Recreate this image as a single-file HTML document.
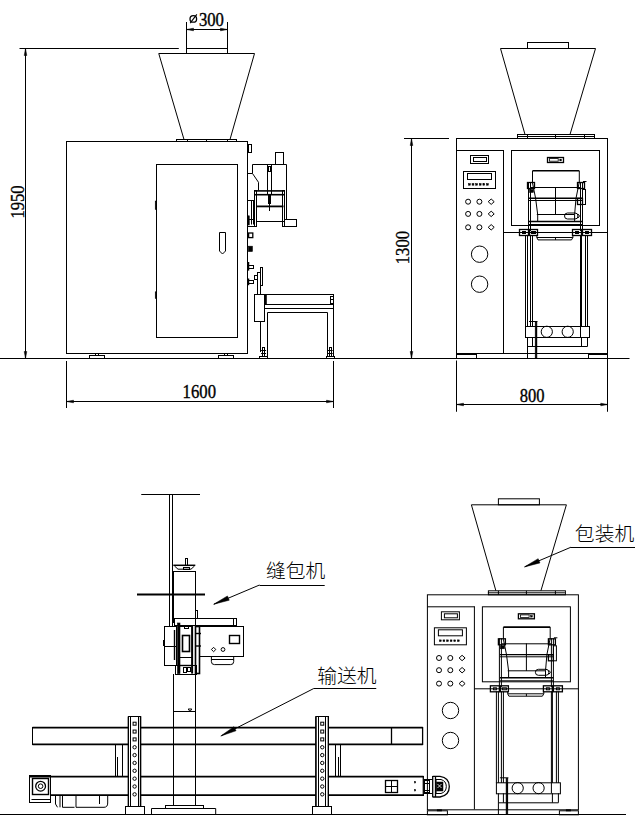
<!DOCTYPE html>
<html><head><meta charset="utf-8"><title>Packing machine drawing</title>
<style>
html,body{margin:0;padding:0;background:#fff;}
body{width:640px;height:832px;overflow:hidden;font-family:"Liberation Serif",serif;}
svg{display:block;}
svg text{font-family:"Liberation Serif",serif;fill:#000;stroke:#000;stroke-width:0.35px;}
</style></head>
<body>
<svg width="640" height="832" viewBox="0 0 640 832">
<rect x="0" y="0" width="640" height="832" fill="#fff"/>
<g fill="none" stroke="#000" stroke-width="1">
<path d="M0 358.5H629.5"/>
<path d="M0 814.5H626"/>
<path d="M19.5 48.5H178.8"/>
<path d="M25.5 48.5V358.5"/>
<path d="M25.5 48.5L26.8 55.5L24.2 55.5Z" fill="#000" stroke-width="0.5"/>
<path d="M25.5 358.5L24.2 351.5L26.8 351.5Z" fill="#000" stroke-width="0.5"/>
<text x="23.6" y="218.6" font-size="17.8" textLength="33.2" lengthAdjust="spacingAndGlyphs" transform="rotate(-90 23.6 218.6)">1950</text>
<path d="M186.5 22V53"/>
<path d="M227.5 22V53"/>
<path d="M186.5 29.5H227.5"/>
<path d="M186.5 29.5L193.5 28.2L193.5 30.8Z" fill="#000" stroke-width="0.5"/>
<path d="M227.5 29.5L220.5 30.8L220.5 28.2Z" fill="#000" stroke-width="0.5"/>
<circle cx="193.3" cy="18.9" r="3.3" stroke-width="1.3"/>
<path d="M190.2 23.2L196.8 14.4" stroke-width="1.1"/>
<text x="198.9" y="25.7" font-size="17.8" textLength="25" lengthAdjust="spacingAndGlyphs">300</text>
<rect x="186.5" y="48.5" width="41" height="5"/>
<path d="M184 139.5L158.75 53.5L254.5 53.5L230 139.5"/>
<rect x="176.5" y="139.5" width="60" height="2"/>
<path d="M187.5 139.5V141.5"/>
<path d="M206.5 139.5V141.5"/>
<path d="M227.5 139.5V141.5"/>
<rect x="66.5" y="141.5" width="181" height="212"/>
<rect x="156.5" y="164.5" width="81" height="173"/>
<rect x="155.2" y="201" width="1.3" height="8.5" stroke-width="0.5" fill="#000"/>
<rect x="155.2" y="291.8" width="1.3" height="6.7" stroke-width="0.5" fill="#000"/>
<path d="M219.5 232.5L225.5 232.5L225.5 251L222.5 254L219.5 251Z"/>
<rect x="89.5" y="355.5" width="15" height="3"/>
<rect x="95.5" y="353.5" width="3" height="2"/>
<rect x="218.5" y="355.5" width="15" height="3"/>
<rect x="224.5" y="353.5" width="3" height="2"/>
<path d="M66.5 361V408"/>
<path d="M333.5 361V408"/>
<path d="M66.5 401.5H333.5"/>
<path d="M66.5 401.5L73.5 400.2L73.5 402.8Z" fill="#000" stroke-width="0.5"/>
<path d="M333.5 401.5L326.5 402.8L326.5 400.2Z" fill="#000" stroke-width="0.5"/>
<text x="182.6" y="397.8" font-size="17.8" textLength="33.4" lengthAdjust="spacingAndGlyphs">1600</text>
<rect x="248.5" y="144.5" width="3" height="8"/>
<rect x="275.5" y="152.5" width="8" height="12"/>
<path d="M252.5 173.5L252.5 164.5L286.5 164.5L286.5 219.5"/>
<path d="M248 173.5L252.5 173.5L258.5 182.3L258.5 190.5"/>
<rect x="267.5" y="164.5" width="4" height="30"/>
<rect x="268.5" y="166.5" width="2" height="5"/>
<path d="M269.5 194V206"/>
<path d="M268.5 194V204"/>
<path d="M270.5 194V204"/>
<path d="M269.5 206L269.5 211"/>
<path d="M254.8 190.9H284.8" stroke-width="1.6"/>
<path d="M254.8 194.7H284.8" stroke-width="1.6"/>
<path d="M256.5 206.4H283.5" stroke-width="1.8"/>
<path d="M256.5 221.5H284"/>
<rect x="254.5" y="190.5" width="2" height="36"/>
<rect x="282.5" y="190.5" width="2" height="36"/>
<path d="M253.5 200V224.5"/>
<path d="M251.5 200V224.5"/>
<path d="M248 200.5H254.8"/>
<path d="M248 219.5H254.8"/>
<path d="M248 226.5H254.8"/>
<rect x="247.6" y="215.8" width="1.7" height="9.2" stroke-width="0.5" fill="#000"/>
<rect x="284.5" y="219.5" width="12" height="7"/>
<rect x="248.6" y="233" width="4.2" height="4.6" stroke-width="1.3"/>
<rect x="248.4" y="246.2" width="4" height="5.3" stroke-width="0.6" fill="#000"/>
<rect x="248.5" y="265.5" width="5" height="3"/>
<path d="M248.4 262V270.6" stroke-width="1.7"/>
<rect x="248.5" y="280.5" width="5" height="3"/>
<path d="M248.4 278.5V285.2" stroke-width="1.7"/>
<rect x="257.5" y="272.5" width="3" height="22"/>
<rect x="260.5" y="267.5" width="2" height="18"/>
<rect x="254.5" y="275.5" width="3" height="4"/>
<rect x="254.5" y="294.5" width="10" height="27"/>
<rect x="265.5" y="294.5" width="68" height="10"/>
<path d="M266 295V304" stroke-width="1.6"/>
<path d="M265 308.5H333.8"/>
<path d="M267.5 357L267.5 312.5L327.5 312.5L327.5 357"/>
<path d="M333.5 294.5V357"/>
<path d="M260.5 321V352"/>
<rect x="330.5" y="296.5" width="3" height="3"/>
<rect x="330.5" y="299.5" width="3" height="4"/>
<rect x="262.5" y="347.5" width="2" height="9"/>
<path d="M261.1 350.5H266.1"/>
<path d="M261.1 353.5H266.1"/>
<rect x="259.5" y="356.5" width="8" height="2"/>
<rect x="329.5" y="347.5" width="2" height="9"/>
<path d="M327.7 350.5H332.7"/>
<path d="M327.7 353.5H332.7"/>
<rect x="326.5" y="356.5" width="8" height="2"/>
<g>
<rect x="527.5" y="42.5" width="41" height="6"/>
<path d="M525 134.5L500.5 48.5L595.5 48.5L570 134.5"/>
<rect x="517.5" y="134.5" width="77" height="4"/>
<path d="M517 136.5H594"/>
<path d="M527.5 134.5V138.4"/>
<path d="M555.5 134.5V138.4"/>
<path d="M584.5 134.5V138.4"/>
<rect x="456.5" y="138.5" width="151" height="215"/>
<path d="M456.5 150.5H504"/>
<path d="M503.5 150.3V353"/>
<rect x="511.5" y="150.5" width="88" height="75"/>
<path d="M503.6 232.5H607.75"/>
<rect x="470.5" y="155.5" width="18" height="8"/>
<rect x="473.5" y="157.5" width="13" height="4"/>
<rect x="463.5" y="171.5" width="32" height="17"/>
<rect x="467.5" y="173.5" width="24" height="6"/>
<rect x="468.5" y="183.6" width="1.8" height="1.6" stroke-width="0.5" fill="#000"/>
<rect x="472.1" y="183.6" width="1.8" height="1.6" stroke-width="0.5" fill="#000"/>
<rect x="475.7" y="183.6" width="1.8" height="1.6" stroke-width="0.5" fill="#000"/>
<rect x="479.3" y="183.6" width="1.8" height="1.6" stroke-width="0.5" fill="#000"/>
<rect x="482.9" y="183.6" width="1.8" height="1.6" stroke-width="0.5" fill="#000"/>
<rect x="486.5" y="183.6" width="1.8" height="1.6" stroke-width="0.5" fill="#000"/>
<circle cx="468.1" cy="201.7" r="2.5"/>
<circle cx="479.4" cy="201.7" r="2.5"/>
<path d="M491.2 199L494.2 201.7L491.2 204.4L488.2 201.7Z"/>
<circle cx="468.1" cy="213.9" r="2.5"/>
<circle cx="479.4" cy="213.9" r="2.5"/>
<path d="M491.2 211.2L494.2 213.9L491.2 216.6L488.2 213.9Z"/>
<circle cx="468.1" cy="227.3" r="2.5"/>
<circle cx="479.4" cy="227.3" r="2.5"/>
<path d="M491.2 224.6L494.2 227.3L491.2 230L488.2 227.3Z"/>
<circle cx="479.6" cy="254.2" r="8.2"/>
<circle cx="479.6" cy="284.2" r="8.2"/>
<rect x="547.5" y="157.5" width="16" height="5" stroke-width="1.3"/>
<rect x="549.6" y="158.6" width="8.6" height="2.6" stroke-width="0.8"/>
<rect x="559.8" y="159.2" width="1.6" height="1.6" stroke-width="0.5" fill="#000"/>
<path d="M532.5 170.8H579.3" stroke-width="1.6"/>
<path d="M532.5 170.8L532.5 183L535.6 198.3L537.7 214.6L537.7 221.5"/>
<path d="M579.3 170.8L579.3 182L576 198.3L574.6 214.6L574.6 221.5"/>
<path d="M530.8 187.5H580.6"/>
<path d="M529 198.3H582.4" stroke-width="1.4"/>
<path d="M529 200.5H582.4"/>
<path d="M536.8 214.5H574.6"/>
<path d="M529 221.5H582.4" stroke-width="1.4"/>
<path d="M529 224.5H582.4"/>
<path d="M555.5 187.1V214.6"/>
<path d="M528.5 182V231"/>
<path d="M530.5 182V231"/>
<path d="M580.5 182V231"/>
<path d="M582.5 182V231"/>
<rect x="527.5" y="182.5" width="7" height="6" stroke-width="1.3"/>
<rect x="529.5" y="189.5" width="4" height="3" stroke-width="0.5" fill="#000"/>
<rect x="577.5" y="182.5" width="7" height="6" stroke-width="1.3"/>
<rect x="582.5" y="189.5" width="3" height="15"/>
<rect x="577.5" y="198.5" width="5" height="6" stroke-width="1.3"/>
<path d="M583 181.5H586.5"/>
<rect x="564.5" y="213" width="13.5" height="6" rx="3"/>
<path d="M578 214L579.5 216"/>
<path d="M578 218L579.5 216"/>
<rect x="519.5" y="229.5" width="9" height="6" stroke-width="1.3"/>
<rect x="522.5" y="231.5" width="3" height="2"/>
<rect x="529.5" y="229.5" width="8" height="6" stroke-width="1.3"/>
<rect x="531.5" y="231.5" width="4" height="2"/>
<rect x="572.5" y="229.5" width="9" height="6" stroke-width="1.3"/>
<rect x="575.5" y="231.5" width="3" height="2"/>
<rect x="582.5" y="229.5" width="9" height="6" stroke-width="1.3"/>
<rect x="585.5" y="231.5" width="3" height="2"/>
<path d="M536.8 235.2L536.8 237.5L538 239.9L571.5 239.9L572.9 237.5L572.9 235.2"/>
<path d="M536.8 237.5H572.9"/>
<path d="M555.5 237.5V239.9"/>
<path d="M525.5 235.2V326.6"/>
<path d="M527.5 235.2V326.6"/>
<path d="M530.5 235.2V326.6"/>
<path d="M532.5 235.2V326.6"/>
<path d="M580.5 235.2V326.6"/>
<path d="M581.5 235.2V326.6"/>
<path d="M585.5 235.2V326.6"/>
<path d="M587.5 235.2V326.6"/>
<rect x="525.5" y="326.5" width="64" height="11"/>
<path d="M536.5 326.6V337"/>
<path d="M580.5 326.6V337"/>
<circle cx="546.8" cy="331.8" r="5.6"/>
<circle cx="567.7" cy="331.8" r="5.6"/>
<path d="M527.5 337V358"/>
<path d="M536.5 337V353"/>
<path d="M581.5 337V346.4"/>
<path d="M587.5 337V346.4"/>
<path d="M527.9 346.5H587.5"/>
<path d="M532.5 337V346.4"/>
<rect x="535.2" y="322" width="1.7" height="36" stroke-width="0.6" fill="#000"/>
<path d="M529 321.5H537.5"/>
<rect x="456.5" y="354.5" width="20" height="4"/>
<rect x="466.5" y="353.5" width="4" height="1"/>
<rect x="588.5" y="354.5" width="19" height="4"/>
<rect x="595.5" y="353.5" width="4" height="1"/>
</g>
<g transform="translate(-29.1 456.3)">
<rect x="527.5" y="42.5" width="41" height="6"/>
<path d="M525 134.5L500.5 48.5L595.5 48.5L570 134.5"/>
<rect x="517.5" y="134.5" width="77" height="4"/>
<path d="M517 136.5H594"/>
<path d="M527.5 134.5V138.4"/>
<path d="M555.5 134.5V138.4"/>
<path d="M584.5 134.5V138.4"/>
<rect x="456.5" y="138.5" width="151" height="215"/>
<path d="M456.5 150.5H504"/>
<path d="M503.5 150.3V353"/>
<rect x="511.5" y="150.5" width="88" height="75"/>
<path d="M503.6 232.5H607.75"/>
<rect x="470.5" y="155.5" width="18" height="8"/>
<rect x="473.5" y="157.5" width="13" height="4"/>
<rect x="463.5" y="171.5" width="32" height="17"/>
<rect x="467.5" y="173.5" width="24" height="6"/>
<rect x="468.5" y="183.6" width="1.8" height="1.6" stroke-width="0.5" fill="#000"/>
<rect x="472.1" y="183.6" width="1.8" height="1.6" stroke-width="0.5" fill="#000"/>
<rect x="475.7" y="183.6" width="1.8" height="1.6" stroke-width="0.5" fill="#000"/>
<rect x="479.3" y="183.6" width="1.8" height="1.6" stroke-width="0.5" fill="#000"/>
<rect x="482.9" y="183.6" width="1.8" height="1.6" stroke-width="0.5" fill="#000"/>
<rect x="486.5" y="183.6" width="1.8" height="1.6" stroke-width="0.5" fill="#000"/>
<circle cx="468.1" cy="201.7" r="2.5"/>
<circle cx="479.4" cy="201.7" r="2.5"/>
<path d="M491.2 199L494.2 201.7L491.2 204.4L488.2 201.7Z"/>
<circle cx="468.1" cy="213.9" r="2.5"/>
<circle cx="479.4" cy="213.9" r="2.5"/>
<path d="M491.2 211.2L494.2 213.9L491.2 216.6L488.2 213.9Z"/>
<circle cx="468.1" cy="227.3" r="2.5"/>
<circle cx="479.4" cy="227.3" r="2.5"/>
<path d="M491.2 224.6L494.2 227.3L491.2 230L488.2 227.3Z"/>
<circle cx="479.6" cy="254.2" r="8.2"/>
<circle cx="479.6" cy="284.2" r="8.2"/>
<rect x="547.5" y="157.5" width="16" height="5" stroke-width="1.3"/>
<rect x="549.6" y="158.6" width="8.6" height="2.6" stroke-width="0.8"/>
<rect x="559.8" y="159.2" width="1.6" height="1.6" stroke-width="0.5" fill="#000"/>
<path d="M532.5 170.8H579.3" stroke-width="1.6"/>
<path d="M532.5 170.8L532.5 183L535.6 198.3L537.7 214.6L537.7 221.5"/>
<path d="M579.3 170.8L579.3 182L576 198.3L574.6 214.6L574.6 221.5"/>
<path d="M530.8 187.5H580.6"/>
<path d="M529 198.3H582.4" stroke-width="1.4"/>
<path d="M529 200.5H582.4"/>
<path d="M536.8 214.5H574.6"/>
<path d="M529 221.5H582.4" stroke-width="1.4"/>
<path d="M529 224.5H582.4"/>
<path d="M555.5 187.1V214.6"/>
<path d="M528.5 182V231"/>
<path d="M530.5 182V231"/>
<path d="M580.5 182V231"/>
<path d="M582.5 182V231"/>
<rect x="527.5" y="182.5" width="7" height="6" stroke-width="1.3"/>
<rect x="529.5" y="189.5" width="4" height="3" stroke-width="0.5" fill="#000"/>
<rect x="577.5" y="182.5" width="7" height="6" stroke-width="1.3"/>
<rect x="582.5" y="189.5" width="3" height="15"/>
<rect x="577.5" y="198.5" width="5" height="6" stroke-width="1.3"/>
<path d="M583 181.5H586.5"/>
<rect x="564.5" y="213" width="13.5" height="6" rx="3"/>
<path d="M578 214L579.5 216"/>
<path d="M578 218L579.5 216"/>
<rect x="519.5" y="229.5" width="9" height="6" stroke-width="1.3"/>
<rect x="522.5" y="231.5" width="3" height="2"/>
<rect x="529.5" y="229.5" width="8" height="6" stroke-width="1.3"/>
<rect x="531.5" y="231.5" width="4" height="2"/>
<rect x="572.5" y="229.5" width="9" height="6" stroke-width="1.3"/>
<rect x="575.5" y="231.5" width="3" height="2"/>
<rect x="582.5" y="229.5" width="9" height="6" stroke-width="1.3"/>
<rect x="585.5" y="231.5" width="3" height="2"/>
<path d="M536.8 235.2L536.8 237.5L538 239.9L571.5 239.9L572.9 237.5L572.9 235.2"/>
<path d="M536.8 237.5H572.9"/>
<path d="M555.5 237.5V239.9"/>
<path d="M525.5 235.2V326.6"/>
<path d="M527.5 235.2V326.6"/>
<path d="M530.5 235.2V326.6"/>
<path d="M532.5 235.2V326.6"/>
<path d="M580.5 235.2V326.6"/>
<path d="M581.5 235.2V326.6"/>
<path d="M585.5 235.2V326.6"/>
<path d="M587.5 235.2V326.6"/>
<rect x="525.5" y="326.5" width="64" height="11"/>
<path d="M536.5 326.6V337"/>
<path d="M580.5 326.6V337"/>
<circle cx="546.8" cy="331.8" r="5.6"/>
<circle cx="567.7" cy="331.8" r="5.6"/>
<path d="M527.5 337V358"/>
<path d="M536.5 337V353"/>
<path d="M581.5 337V346.4"/>
<path d="M587.5 337V346.4"/>
<path d="M527.9 346.5H587.5"/>
<path d="M532.5 337V346.4"/>
<rect x="535.2" y="322" width="1.7" height="36" stroke-width="0.6" fill="#000"/>
<path d="M529 321.5H537.5"/>
<rect x="456.5" y="354.5" width="20" height="4"/>
<rect x="466.5" y="353.5" width="4" height="1"/>
<rect x="588.5" y="354.5" width="19" height="4"/>
<rect x="595.5" y="353.5" width="4" height="1"/>
</g>
<path d="M404 138.5H449"/>
<path d="M411.5 138.5V358.5"/>
<path d="M411.5 138.5L412.8 145.5L410.2 145.5Z" fill="#000" stroke-width="0.5"/>
<path d="M411.5 358.5L410.2 351.5L412.8 351.5Z" fill="#000" stroke-width="0.5"/>
<text x="409" y="264.2" font-size="17.8" textLength="33.2" lengthAdjust="spacingAndGlyphs" transform="rotate(-90 409 264.2)">1300</text>
<path d="M456.5 360.5V411.75"/>
<path d="M607.5 353V411.75"/>
<path d="M456.5 404.5H607.75"/>
<path d="M456.5 404.5L463.5 403.2L463.5 405.8Z" fill="#000" stroke-width="0.5"/>
<path d="M607.75 404.5L600.75 405.8L600.75 403.2Z" fill="#000" stroke-width="0.5"/>
<text x="519.7" y="401.5" font-size="17.8" textLength="24.8" lengthAdjust="spacingAndGlyphs">800</text>
<path d="M141.25 494.5H200"/>
<path d="M169.5 494.5V626"/>
<path d="M172.5 494.5V626"/>
<rect x="185.5" y="558.5" width="2" height="7"/>
<path d="M173.3 565.3H195.3" stroke-width="1.5"/>
<path d="M174.5 566L178 569.2L191 569.2L194.5 566"/>
<rect x="183.5" y="567.5" width="6" height="2"/>
<path d="M173.5 571V623"/>
<path d="M195.5 571V626"/>
<path d="M173.3 571.5H195.4"/>
<path d="M173.5 674V805.3"/>
<path d="M195.5 674V805.3"/>
<path d="M173.3 711.5H195.5"/>
<path d="M188.2 709L191.8 709L190 711.5Z"/>
<path d="M137 594.5H205" stroke-width="1.8"/>
<rect x="174.5" y="618.5" width="62" height="7"/>
<path d="M233.5 618.5V625.2"/>
<rect x="195.5" y="610.5" width="2" height="8"/>
<rect x="199.5" y="626.5" width="44" height="30"/>
<rect x="229.5" y="635.5" width="10" height="8" stroke-width="1.4"/>
<path d="M213.6 647.3L215.8 649.5L213.6 651.7L211.4 649.5Z"/>
<circle cx="223" cy="649.5" r="1.9"/>
<path d="M211.4 656.7V661.6Q211.4 664.6 214.4 664.6H230.7Q233.7 664.6 233.7 661.6V656.7"/>
<path d="M211.4 659.5H233.7"/>
<rect x="164.5" y="626.5" width="12" height="39"/>
<path d="M164.6 646.5H176.6"/>
<path d="M163.5 640V646"/>
<rect x="177.5" y="623" width="2.5" height="50.6" stroke-width="0.6" fill="#000"/>
<path d="M192.1 626V673.6" stroke-width="2"/>
<rect x="195.5" y="626.5" width="4" height="47" stroke-width="1.6"/>
<rect x="182.5" y="635.5" width="7" height="16" stroke-width="1.6"/>
<path d="M180 626.5H192"/>
<path d="M180 657.5H192"/>
<path d="M180 665.5H192" stroke-width="1.4"/>
<rect x="184.5" y="626.5" width="4" height="2"/>
<rect x="175.5" y="665.5" width="21" height="9"/>
<rect x="183.5" y="667.5" width="3" height="5"/>
<rect x="187.5" y="667.5" width="3" height="4"/>
<path d="M195 633.5H201" stroke-width="1.4"/>
<path d="M195 646H201" stroke-width="1.4"/>
<path d="M174.5 630V660" stroke-width="1.4"/>
<path d="M259.5 585.5H324.7"/>
<path d="M259.5 585L214 604.2"/>
<path d="M213.6 604.3L227.45 595.96L229.24 600.2Z" fill="#000" stroke-width="0.5"/>
<text x="266" y="578.2" font-size="19.8" textLength="59.4" lengthAdjust="spacing" style="font-family:'Liberation Sans','Noto Sans CJK SC',sans-serif;font-weight:300;fill:#000;stroke:none;">缝包机</text>
<path d="M32.5 727.6H422.8" stroke-width="1.7"/>
<path d="M32.5 744.4H422.8" stroke-width="1.7"/>
<path d="M32.5 727V745"/>
<path d="M422.6 727V745" stroke-width="1.3"/>
<path d="M391.5 727V745" stroke-width="1.3"/>
<path d="M29.5 776.6H423.5" stroke-width="1.7"/>
<path d="M50 795.2H423.5" stroke-width="1.7"/>
<path d="M423.3 776V796" stroke-width="1.3"/>
<path d="M115.5 745V776"/>
<path d="M122.5 745V776"/>
<path d="M335.5 745V776"/>
<path d="M340.5 745V776"/>
<path d="M117.5 757V776"/>
<path d="M338.5 757V776"/>
<rect x="29.5" y="775.5" width="21" height="27"/>
<path d="M31.5 799.5H50.9"/>
<rect x="32.5" y="778.5" width="16" height="16" stroke-width="1.4"/>
<circle cx="40.6" cy="786.2" r="4.9" stroke-width="1.3"/>
<circle cx="40.6" cy="786.2" r="2.3"/>
<path d="M55.5 795.5V804L57.5 807.3M60 795.5V807.3M62.5 807.3H74.5M62.5 795.5V807.3M76 795.5V807.3H104Q107.7 807.3 107.7 803V795.5M99.5 795.5V804"/>
<rect x="128.5" y="716.5" width="12.199999999999989" height="90" fill="#fff"/>
<path d="M128.3 716.5V806.5" stroke-width="1.3"/>
<path d="M140.5 716.5V806.5" stroke-width="1.3"/>
<path d="M130.5 716.5V806.5"/>
<path d="M138.5 716.5V806.5"/>
<path d="M128.3 716.5H140.5"/>
<rect x="125.5" y="806.5" width="19" height="8"/>
<rect x="133.1" y="722.2" width="3" height="3"/>
<rect x="133.1" y="730.05" width="3" height="3"/>
<rect x="133.1" y="737.9" width="3" height="3"/>
<circle cx="134.6" cy="747.25" r="1.7"/>
<circle cx="134.6" cy="755.1" r="1.7"/>
<circle cx="134.6" cy="762.95" r="1.7"/>
<circle cx="134.6" cy="770.8" r="1.7"/>
<circle cx="134.6" cy="778.65" r="1.7"/>
<circle cx="134.6" cy="786.5" r="1.7"/>
<circle cx="134.6" cy="794.35" r="1.7"/>
<rect x="316.0" y="716.5" width="12.5" height="90" fill="#fff"/>
<path d="M315.8 716.5V806.5" stroke-width="1.3"/>
<path d="M328.3 716.5V806.5" stroke-width="1.3"/>
<path d="M318.5 716.5V806.5"/>
<path d="M325.5 716.5V806.5"/>
<path d="M315.8 716.5H328.3"/>
<rect x="312.5" y="806.5" width="19" height="8"/>
<rect x="320.75" y="722.2" width="3" height="3"/>
<rect x="320.75" y="730.05" width="3" height="3"/>
<rect x="320.75" y="737.9" width="3" height="3"/>
<circle cx="322.25" cy="747.25" r="1.7"/>
<circle cx="322.25" cy="755.1" r="1.7"/>
<circle cx="322.25" cy="762.95" r="1.7"/>
<circle cx="322.25" cy="770.8" r="1.7"/>
<circle cx="322.25" cy="778.65" r="1.7"/>
<circle cx="322.25" cy="786.5" r="1.7"/>
<circle cx="322.25" cy="794.35" r="1.7"/>
<rect x="165.5" y="805.5" width="38" height="3"/>
<path d="M151.5 814.3L151.5 808.5L215.7 808.5L215.7 814.3"/>
<rect x="385.5" y="780.5" width="12" height="12" stroke-width="1.3"/>
<path d="M385.5 786.5H397.5"/>
<path d="M391.5 780.3V792.3"/>
<rect x="414.6" y="781.5" width="1" height="1.5" stroke-width="0.5" fill="#000"/>
<rect x="414.6" y="789.5" width="1" height="1.5" stroke-width="0.5" fill="#000"/>
<rect x="424.5" y="779.5" width="5" height="14"/>
<rect x="424.5" y="780.5" width="5" height="3"/>
<rect x="424.5" y="790.5" width="5" height="2"/>
<path d="M432.7 776V797.2M435.5 776V797.2M432.7 776.3H440Q449.3 777.5 449.3 786.5Q449.3 795.5 440 797H432.7" stroke-width="1.3"/>
<path d="M436 779.5H441Q446.3 781 446.3 786.5Q446.3 792 441 793.5H436Z" stroke-width="1"/>
<rect x="436.5" y="782" width="6.5" height="9" stroke-width="0.5" fill="#000"/>
<path d="M437.5 784l4 4m0-4l-4 4" stroke="#fff" stroke-width="0.8"/>
<path d="M429 779.5H432.7"/>
<path d="M429 793.5H432.7"/>
<path d="M313.75 688.5H376.25"/>
<path d="M313.75 688.5L221.5 735.7"/>
<path d="M220.75 736L233.95 726.67L236.05 730.77Z" fill="#000" stroke-width="0.5"/>
<text x="317.2" y="683.4" font-size="19.8" textLength="59.4" lengthAdjust="spacing" style="font-family:'Liberation Sans','Noto Sans CJK SC',sans-serif;font-weight:300;fill:#000;stroke:none;">输送机</text>
<path d="M571 547.5H635"/>
<path d="M571 547.2L525 566.7"/>
<path d="M524.3 567L538.15 558.66L539.94 562.9Z" fill="#000" stroke-width="0.5"/>
<text x="574.8" y="541.4" font-size="19.8" textLength="59.6" lengthAdjust="spacing" style="font-family:'Liberation Sans','Noto Sans CJK SC',sans-serif;font-weight:300;fill:#000;stroke:none;">包装机</text>
</g>
</svg>
</body></html>
